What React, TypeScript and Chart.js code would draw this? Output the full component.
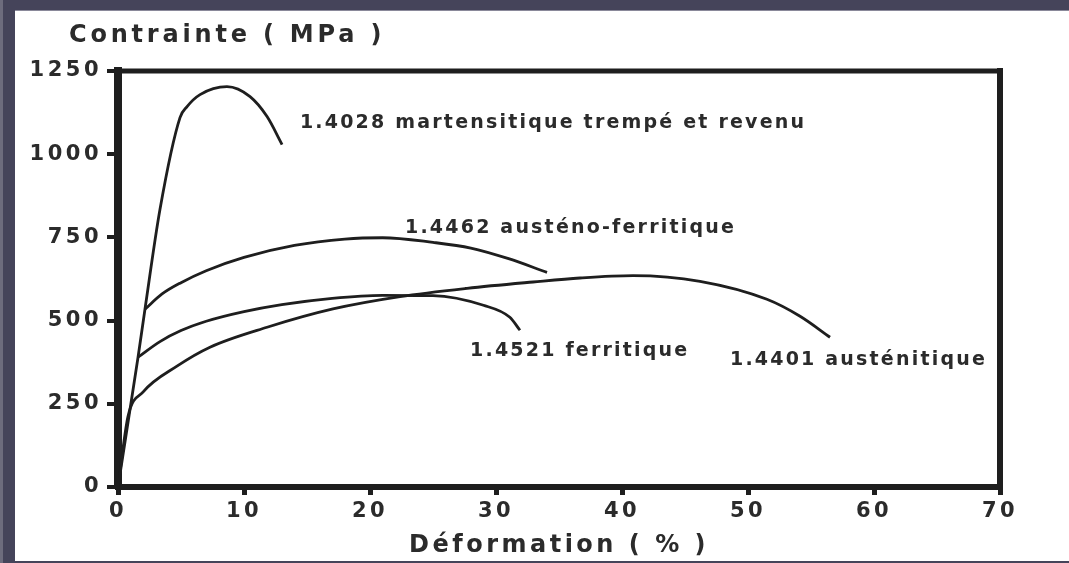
import React, { useEffect, useRef } from "react";
import { Chart, registerables } from "chart.js";

Chart.register(...registerables);

// ---- data ----
const xTickStep = 10;
const xMin = 0;
const xMax = 70;
const yTickStep = 250;
const yMin = 0;
const yMax = 1250;

const yAxisTitle = "Contrainte ( MPa )";
const xAxisTitle = "Déformation ( % )";

const seriesNames = [
  "1.4028 martensitique trempé et revenu",
  "1.4462 austéno-ferritique",
  "1.4521 ferritique",
  "1.4401 austénitique",
];

const martX = [0, 1.59, 2.14, 3.33, 4.92, 5.48, 6.51, 8.65, 10.48, 11.83, 13.02];
const martY = [0, 390, 534, 834, 1110, 1143, 1179, 1203, 1173, 1113, 1029];

const duplexX = [2.14, 3.5, 5, 7, 10, 14, 18, 21, 25, 28, 31, 34.05];
const duplexY = [534, 580, 614, 650, 690, 726, 745, 749, 735, 718, 686, 645];

const ferX = [1.59, 3.33, 5, 7, 10, 13, 17, 21, 25, 29, 31.1, 31.9];
const ferY = [390, 437, 470, 498, 527, 548, 567, 576, 575, 546, 510, 471];

const ausX = [0, 0.8, 1.98, 4.68, 7.3, 11.83, 17.06, 22.38, 27.7, 32.94, 36.67, 40.87, 46.19, 51.5, 54.13, 56.51];
const ausY = [0, 213, 285, 363, 420, 480, 535, 572, 597, 616, 628, 635, 618, 564, 513, 450];

// label anchors (data units, left edge / vertical centre of text)
const labelX = [14.44, 22.78, 27.94, 48.57];
const labelY = [1095, 778, 408, 381];

const seriesX = [martX, duplexX, ferX, ausX];
const seriesY = [martY, duplexY, ferY, ausY];

const W = 1069;
const H = 563;
const FRAME = "#45445a";
const INK = "#1e1e1e";
const TEXT = "#2b2b2b";
const FONT = "'DejaVu Sans', 'Open Sans', sans-serif";

const framePlugin = {
  id: "frame",
  beforeDraw(chart: any) {
    const ctx = chart.ctx as CanvasRenderingContext2D;
    ctx.save();
    ctx.fillStyle = FRAME;
    ctx.fillRect(0, 0, W, H);
    ctx.fillStyle = "#6d6c7d";
    ctx.fillRect(0, 0, 3, H);
    ctx.fillStyle = "#ffffff";
    ctx.fillRect(15, 10, W - 15, 551);
    ctx.fillStyle = "#8a899a";
    ctx.fillRect(15, 10, W - 15, 1);
    ctx.restore();
    (ctx as any).letterSpacing = "3.5px";
  },
  afterDraw(chart: any) {
    const ctx = chart.ctx as CanvasRenderingContext2D;
    const { left, right, top, bottom } = chart.chartArea;
    ctx.save();
    // top and right frame lines of the plot box
    ctx.strokeStyle = INK;
    ctx.lineCap = "square";
    ctx.lineWidth = 5;
    ctx.beginPath();
    ctx.moveTo(left, top);
    ctx.lineTo(right, top);
    ctx.stroke();
    ctx.lineWidth = 6;
    ctx.beginPath();
    ctx.moveTo(right, top);
    ctx.lineTo(right, bottom);
    ctx.stroke();

    // y axis title (horizontal, top-left)
    (ctx as any).letterSpacing = "3.8px";
    ctx.fillStyle = TEXT;
    ctx.font = `bold 24px ${FONT}`;
    ctx.textAlign = "left";
    ctx.textBaseline = "alphabetic";
    ctx.fillText(yAxisTitle, 69, 42);

    // curve labels
    (ctx as any).letterSpacing = "2.2px";
    ctx.font = `bold 19px ${FONT}`;
    const xs = chart.scales.x;
    const ys = chart.scales.y;
    seriesNames.forEach((name, i) => {
      const px = xs.getPixelForValue(labelX[i]);
      const py = ys.getPixelForValue(labelY[i]);
      ctx.fillText(name, px, py + 5);
    });
    ctx.restore();
  },
};

export default function App() {
  const ref = useRef<HTMLCanvasElement | null>(null);

  useEffect(() => {
    document.body.style.margin = "0";
    const canvas = ref.current!;
    const datasets = seriesNames.map((name, i) => ({
      label: name,
      data: seriesX[i].map((x, j) => ({ x, y: seriesY[i][j] })),
      showLine: true,
      borderColor: INK,
      borderWidth: 2.8,
      pointRadius: 0,
      cubicInterpolationMode: "monotone",
      fill: false,
    }));

    const chart = new Chart(canvas, {
      type: "scatter",
      data: { datasets },
      plugins: [framePlugin],
      options: {
        animation: false,
        responsive: false,
        devicePixelRatio: 1,
        layout: { padding: { left: 0, top: 71, right: 69, bottom: 0 } },
        plugins: {
          legend: { display: false },
          tooltip: { enabled: false },
          title: { display: false },
        },
        scales: {
          x: {
            type: "linear",
            min: xMin,
            max: xMax,
            ticks: {
              stepSize: xTickStep,
              font: { family: FONT, size: 21, weight: "bold" },
              color: TEXT,
              padding: 4,
              maxRotation: 0,
              callback: (v: any) => String(v),
            },
            grid: {
              drawOnChartArea: false,
              drawTicks: true,
              tickLength: 8,
              lineWidth: 5,
              color: INK,
            },
            border: { display: true, width: 6, color: INK },
            title: {
              display: true,
              text: xAxisTitle,
              font: { family: FONT, size: 24, weight: "bold" },
              color: TEXT,
              padding: { top: 0, bottom: 3 },
            },
            afterFit: (s: any) => {
              s.height = 76;
            },
          },
          y: {
            type: "linear",
            min: yMin,
            max: yMax,
            ticks: {
              stepSize: yTickStep,
              font: { family: FONT, size: 21, weight: "bold" },
              color: TEXT,
              padding: 5,
              callback: (v: any) => String(v),
            },
            grid: {
              drawOnChartArea: false,
              drawTicks: true,
              tickLength: 11,
              lineWidth: 4,
              color: INK,
            },
            border: { display: true, width: 8, color: INK },
            afterFit: (s: any) => {
              s.width = 118;
            },
          },
        },
      } as any,
    });
    return () => chart.destroy();
  }, []);

  return (
    <div style={{ position: "fixed", left: 0, top: 0, width: W, height: H }}>
      <canvas ref={ref} width={W} height={H} style={{ width: W, height: H, display: "block" }} />
    </div>
  );
}
